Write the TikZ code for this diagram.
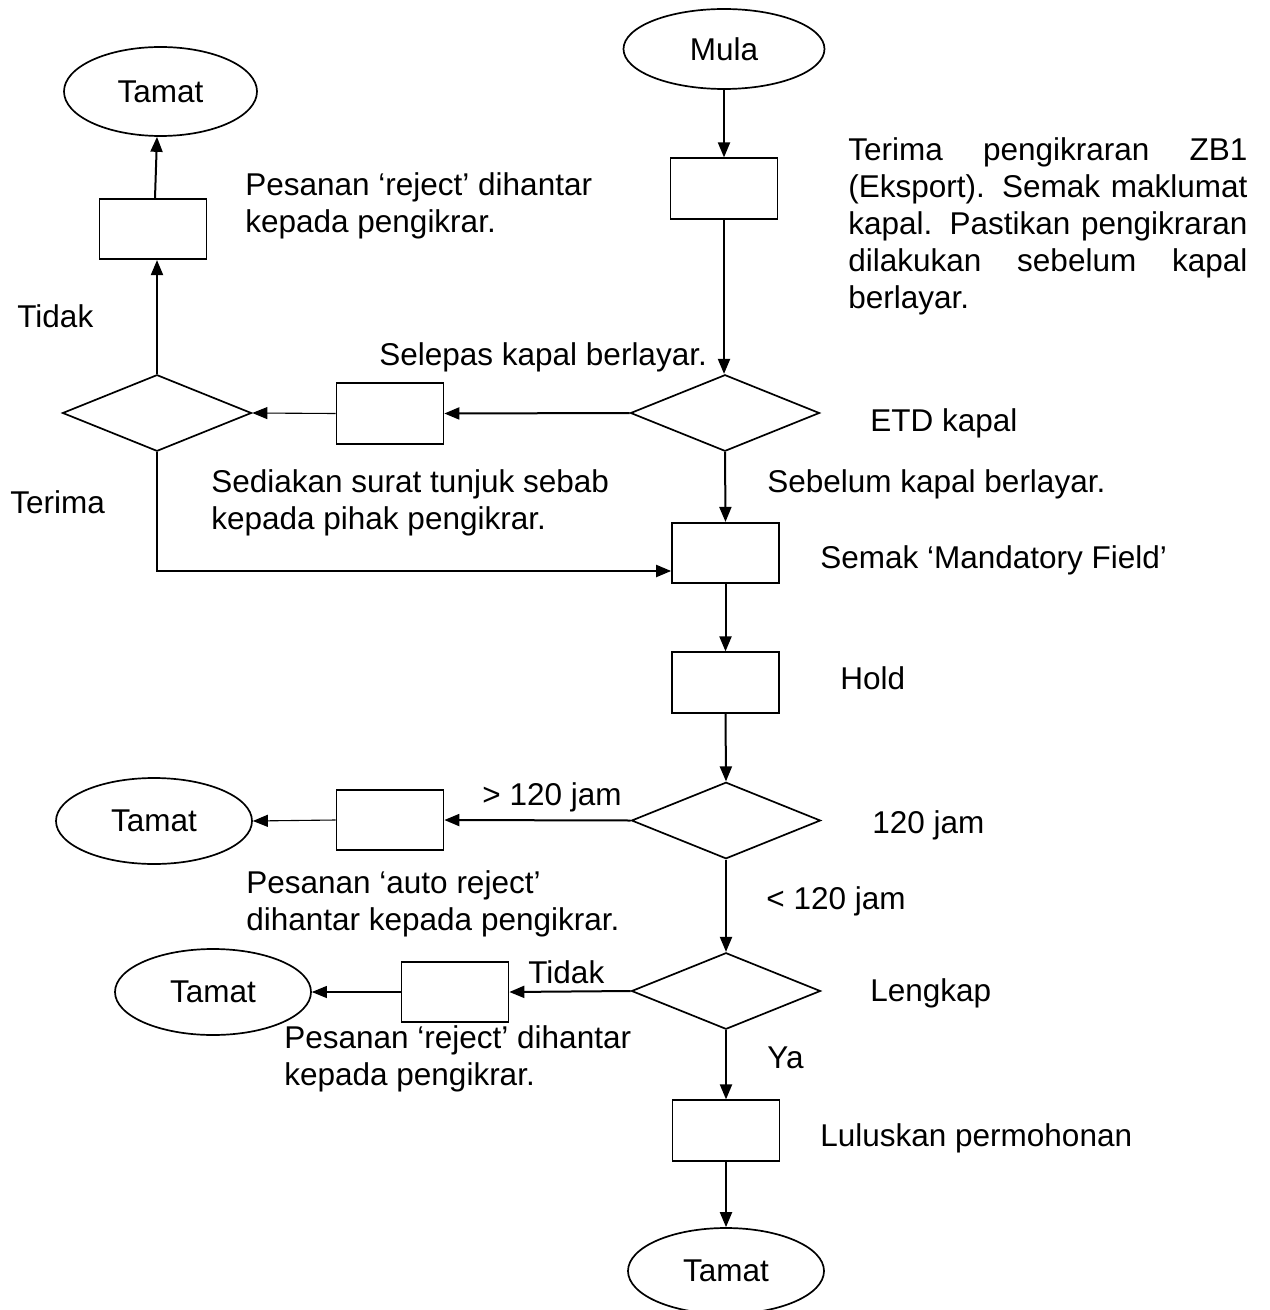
\documentclass[tikz,border=0pt]{standalone}
\usepackage{fontspec}
\setmainfont{Liberation Sans}
\usetikzlibrary{shapes.geometric,arrows.meta}
\newlength\jw
\setlength\jw{199.5pt}
\begin{document}
\begin{tikzpicture}[x=0.5pt,y=-0.5pt,
  every node/.style={font=\fontsize{15.75}{18.5}\selectfont},
  shp/.style={draw, line width=0.85pt, inner sep=0pt},
  term/.style={shp, ellipse, minimum width=98pt, minimum height=43pt},
  proc/.style={shp, rectangle, minimum width=53.5pt, minimum height=30.25pt},
  dec/.style={shp, diamond, minimum width=94.5pt, minimum height=38.25pt},
  arr/.style={line width=1pt, -{Triangle[length=7.5pt,width=6pt]}},
  tarr/.style={line width=0.55pt, -{Triangle[length=7.5pt,width=6pt]}},
  lbl/.style={anchor=base west, inner sep=0pt, align=left},
]
\path[fill=white] (0,0) rectangle (1269,1310);
\useasboundingbox (0,0) rectangle (1269,1310);

% nodes
\node[term, minimum width=100.5pt, minimum height=40pt] (mula) at (724,49) {Mula};
\node[proc] (b1) at (724,188.5) {};
\node[dec] (detd) at (725,413) {};
\node[proc] (b2) at (390,413.5) {};
\node[dec] (dl) at (157,413) {};
\node[proc] (br) at (153,229) {};
\node[term, minimum width=96.5pt, minimum height=44.5pt] (t1) at (160.5,91.5) {Tamat};
\node[proc] (b3) at (725.5,553) {};
\node[proc] (b4) at (725.5,682.5) {};
\node[dec] (d120) at (726,820.5) {};
\node[proc] (b5) at (390,820) {};
\node[term] (t2) at (154,821) {Tamat};
\node[dec] (dlk) at (726,991) {};
\node[proc] (b6) at (455,992) {};
\node[term] (t3) at (213,992) {Tamat};
\node[proc] (b7) at (726,1130.5) {};
\node[term] (t4) at (726,1271) {Tamat};

% connectors
\draw[arr] (mula.south) -- (b1.north);
\draw[arr] (b1.south) -- (b1.south |- detd.north);
\draw[arr] (detd.west) -- (b2.east);
\draw[tarr] (b2.west) -- (dl.east);
\draw[arr] (dl.north) -- (dl.north |- br.south);
\draw[arr] ([xshift=1pt]br.north) -- ([xshift=-1.75pt]t1.south);
\draw[arr] (detd.south) -- (b3.north);
\draw[arr] (dl.south) |- ([yshift=-9pt]b3.west);
\draw[arr] (b3.south) -- (b4.north);
\draw[arr] (b4.south) -- (d120.north);
\draw[arr] (d120.west) -- (b5.east);
\draw[tarr] (b5.west) -- (t2.east);
\draw[arr] (d120.south) -- (dlk.north);
\draw[arr] (dlk.west) -- (b6.east);
\draw[tarr] (b6.west) -- (t3.east);
\draw[arr] (dlk.south) -- (b7.north);
\draw[arr] (b7.south) -- (t4.north);

% labels (multi-line nodes: base = last line)
\node[lbl] (lterima1) at (848,309) {\makebox[\jw][s]{Terima pengikraran ZB1}\\\makebox[\jw][s]{(Eksport). Semak maklumat}\\\makebox[\jw][s]{kapal. Pastikan pengikraran}\\\makebox[\jw][s]{dilakukan sebelum kapal}\\berlayar.};
\node[lbl] (lrej1) at (245,233) {Pesanan ‘reject’ dihantar\\kepada pengikrar.};
\node[lbl] (ltidak1) at (17,328) {Tidak};
\node[lbl] (lselepas) at (379,365) {Selepas kapal berlayar.};
\node[lbl] (letd) at (870,431) {ETD kapal};
\node[lbl] (lsedia) at (211,529) {Sediakan surat tunjuk sebab\\kepada pihak pengikrar.};
\node[lbl] (lterima) at (10,513) {Terima};
\node[lbl] (lsebelum) at (767,492) {Sebelum kapal berlayar.};
\node[lbl] (lsemak) at (820,568) {Semak ‘Mandatory Field’};
\node[lbl] (lhold) at (840,689) {Hold};
\node[lbl] (lgt) at (482,805) {> 120 jam};
\node[lbl] (l120) at (872,833) {120 jam};
\node[lbl] (lauto) at (246,930) {Pesanan ‘auto reject’\\dihantar kepada pengikrar.};
\node[lbl] (llt) at (766,909) {< 120 jam};
\node[lbl] (llengkap) at (870,1001) {Lengkap};
\node[lbl] (ltidak2) at (528,983) {Tidak};
\node[lbl] (lrej2) at (284,1085) {Pesanan ‘reject’ dihantar\\kepada pengikrar.};
\node[lbl] (lya) at (767,1068) {Ya};
\node[lbl] (llulus) at (820,1146) {Luluskan permohonan};
\end{tikzpicture}
\end{document}
